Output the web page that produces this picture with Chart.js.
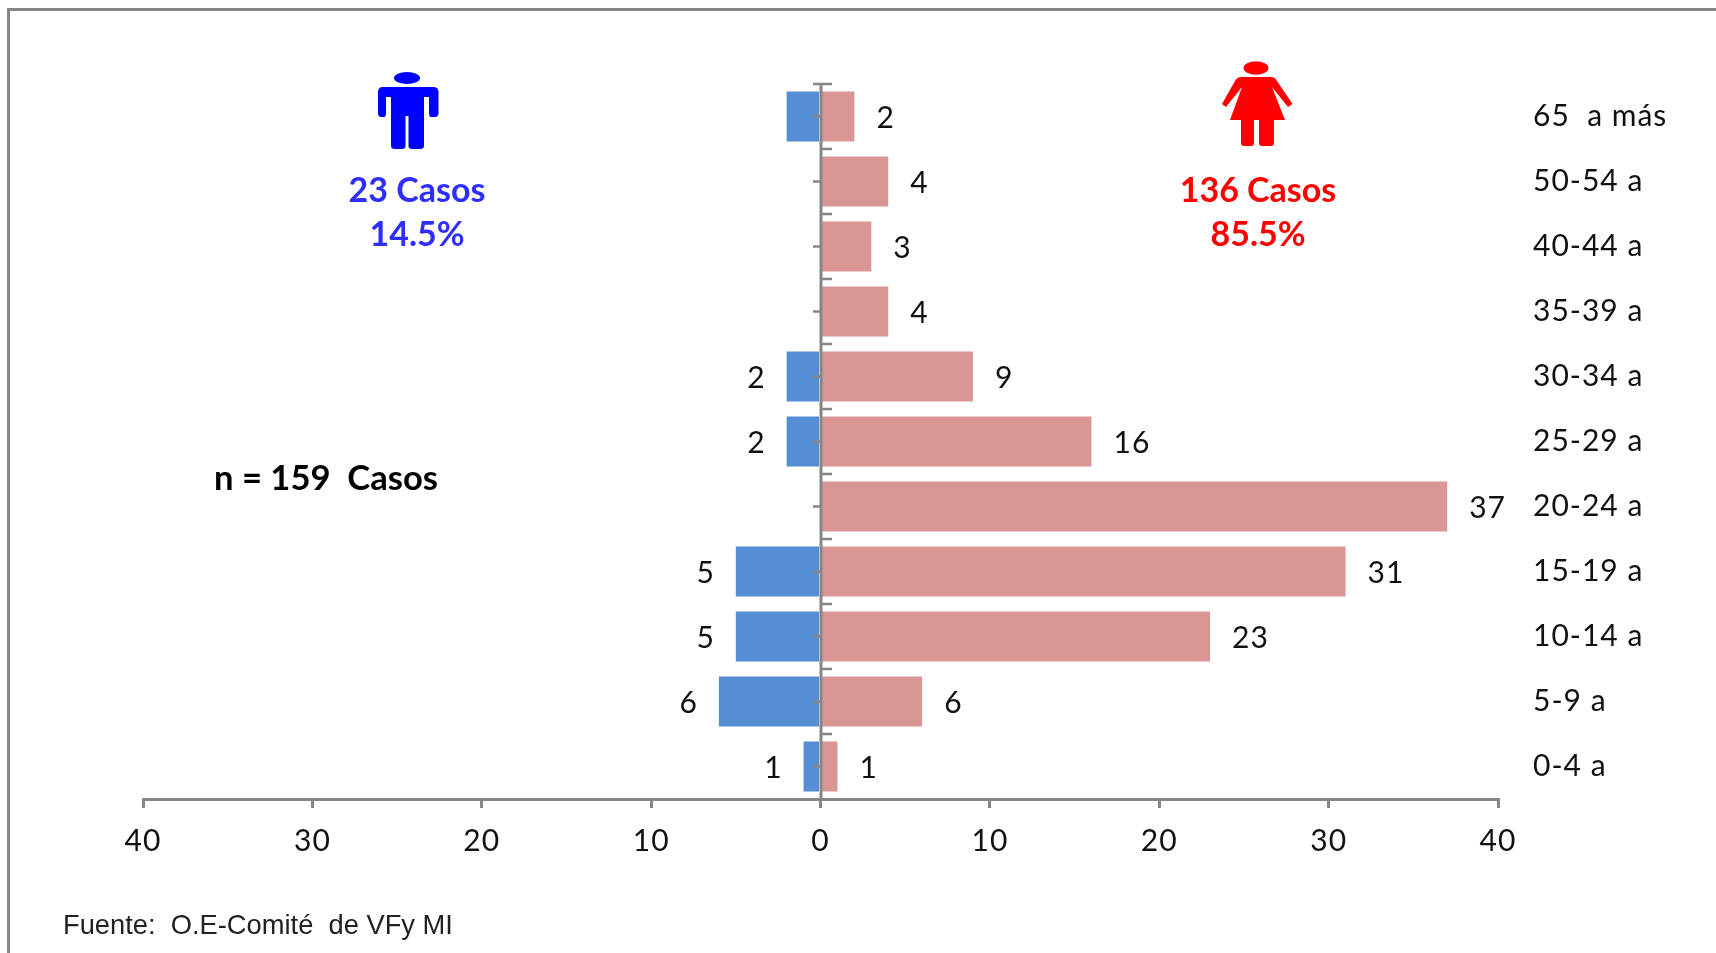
<!DOCTYPE html>
<html>
<head>
<meta charset="utf-8">
<script src="https://cdn.jsdelivr.net/npm/chart.js@4"></script>
<style>
  html, body { margin: 0; background: #fff; overflow: hidden; }
  #wrap { position: relative; width: 1716px; height: 953px; }
  #frame { position: absolute; left: 7px; top: 8px; width: 1720px; height: 960px; border: 3px solid #868686; }
  canvas { position: absolute; left: 0; top: 0; }
  .note { position: absolute; white-space: pre; font-family: Lato, sans-serif; font-weight: 700; font-size: 34px; line-height: 44px; transform: translate(-50%, -50%); }
  #source { position: absolute; left: 63px; top: 909px; white-space: pre; font-family: "Liberation Sans", sans-serif; font-size: 27.3px; color: #222; }
  svg { position: absolute; left: 0; top: 0; }
</style>
</head>
<body>
<div id="wrap">
  <div id="frame"></div>
  <canvas id="pyramid" width="1716" height="953"></canvas>
  <svg width="1716" height="953">
    <!-- man -->
    <g fill="#0000ff">
      <ellipse cx="407" cy="78" rx="13" ry="6"/>
      <path d="M383 87H433Q438.500 87 438.500 92V113Q438.500 117 435 117H431Q429 117 429 113V97H424V146Q424 149 420 149H412Q408.500 149 408.500 146V116H405.500V146Q405.500 149 402 149H395Q391 149 391 146V97H386V113Q386 117 384 117H381Q378 117 378 113V92Q378 87 383 87Z"/>
    </g>
    <!-- woman -->
    <g fill="#ff0000">
      <ellipse cx="1256" cy="68" rx="12.500" ry="6.700"/>
      <path d="M1241 77H1271Q1275 77 1277 81L1292.500 104L1288 107L1272 87L1285 120H1274V143Q1274 146 1271 146H1262Q1259 146 1259 143V120H1254V143Q1254 146 1251 146H1244Q1241 146 1241 143V120H1230L1242 87L1226 107L1222 104L1235 81Q1237 77 1241 77Z"/>
    </g>
  </svg>
  <div class="note" style="left:417px; top:189px; color:#2e2eff">23 Casos</div>
  <div class="note" style="left:417px; top:233px; color:#2e2eff">14.5%</div>
  <div class="note" style="left:1258px; top:189px; color:#ff0000">136 Casos</div>
  <div class="note" style="left:1258px; top:233px; color:#ff0000">85.5%</div>
  <div class="note" style="left:326px; top:477px; color:#000; font-size:34.6px">n = 159  Casos</div>
  <div id="source">Fuente:  O.E-Comité  de VFy MI</div>
</div>
<script>
const age_groups = ['65  a más', '50-54 a', '40-44 a', '35-39 a', '30-34 a', '25-29 a', '20-24 a', '15-19 a', '10-14 a', '5-9 a', '0-4 a']
// men are negative so they go left of the centre axis
const men = [-2, 0, 0, 0, -2, -2, 0, -5, -5, -6, -1]
const women = [2, 4, 3, 4, 9, 16, 37, 31, 23, 6, 1]
// the first men's bar has no label in the original
const men_labels = [null, null, null, null, 2, 2, null, 5, 5, 6, 1]
const women_labels = [2, 4, 3, 4, 9, 16, 37, 31, 23, 6, 1]
const x_ticks = [-40, -30, -20, -10, 0, 10, 20, 30, 40]

const axis_color = '#868686'
const label_font = '30px Lato, sans-serif'

// centre axis with its two sets of tick marks, plus the value labels
const pyramid_extras = {
    id: 'pyramid_extras',
    beforeDraw(chart) {
        // the original text is set wider than Lato
        chart.ctx.letterSpacing = '1px'
    },
    afterDatasetsDraw(chart) {
        const ctx = chart.ctx
        const x = chart.scales.x
        const y = chart.scales.y
        const zero = Math.round(x.getPixelForValue(0))
        const step = y.getPixelForValue(1) - y.getPixelForValue(0)

        ctx.save()
        ctx.strokeStyle = axis_color
        ctx.lineWidth = 3
        ctx.beginPath()
        ctx.moveTo(zero, chart.chartArea.top)
        ctx.lineTo(zero, chart.chartArea.bottom)
        ctx.stroke()

        ctx.lineWidth = 2.5
        age_groups.forEach((group, i) => {
            const mid = y.getPixelForValue(i)
            const edge = mid - step / 2
            ctx.beginPath()
            ctx.moveTo(i === 0 ? zero - 8 : zero, edge)
            ctx.lineTo(zero + 11, edge)
            ctx.moveTo(zero - 8, mid)
            ctx.lineTo(zero, mid)
            ctx.stroke()
        })

        ctx.fillStyle = '#111'
        ctx.font = label_font
        ctx.textBaseline = 'middle'
        age_groups.forEach((group, i) => {
            const mid = y.getPixelForValue(i) + 2
            if (women_labels[i] !== null) {
                ctx.textAlign = 'left'
                ctx.fillText(women_labels[i], x.getPixelForValue(women[i]) + 22, mid)
            }
            if (men_labels[i] !== null) {
                ctx.textAlign = 'right'
                ctx.fillText(men_labels[i], x.getPixelForValue(men[i]) - 21, mid)
            }
        })
        ctx.restore()
    }
}

new Chart(document.getElementById('pyramid').getContext('2d'), {
    type: 'bar',
    data: {
        labels: age_groups,
        datasets: [
            { label: 'Hombres', data: men, backgroundColor: '#558ed5' },
            { label: 'Mujeres', data: women, backgroundColor: '#d99694' },
        ]
    },
    options: {
        indexAxis: 'y',
        responsive: false,
        animation: false,
        barPercentage: 0.77,
        categoryPercentage: 1,
        layout: { padding: { left: 143, top: 84, right: 0, bottom: 0 } },
        plugins: {
            legend: { display: false },
            tooltip: { enabled: false }
        },
        scales: {
            x: {
                stacked: true,
                min: -40,
                max: 40,
                afterFit(scale) { scale.height = 154 },
                afterBuildTicks(scale) { scale.ticks = x_ticks.map(v => ({ value: v })) },
                border: { color: axis_color, width: 3 },
                grid: { drawOnChartArea: false, color: axis_color, lineWidth: 3, tickLength: 9 },
                ticks: {
                    color: '#111',
                    font: { family: 'Lato, sans-serif', size: 30 },
                    padding: 15,
                    maxRotation: 0,
                    autoSkip: false,
                    callback: value => Math.abs(value)
                }
            },
            y: {
                stacked: true,
                position: 'right',
                afterFit(scale) { scale.width = 218 },
                border: { display: false },
                grid: { display: false },
                ticks: {
                    color: '#111',
                    font: { family: 'Lato, sans-serif', size: 30 },
                    crossAlign: 'near',
                    padding: 27
                }
            }
        }
    },
    plugins: [pyramid_extras]
})
</script>
</body>
</html>
